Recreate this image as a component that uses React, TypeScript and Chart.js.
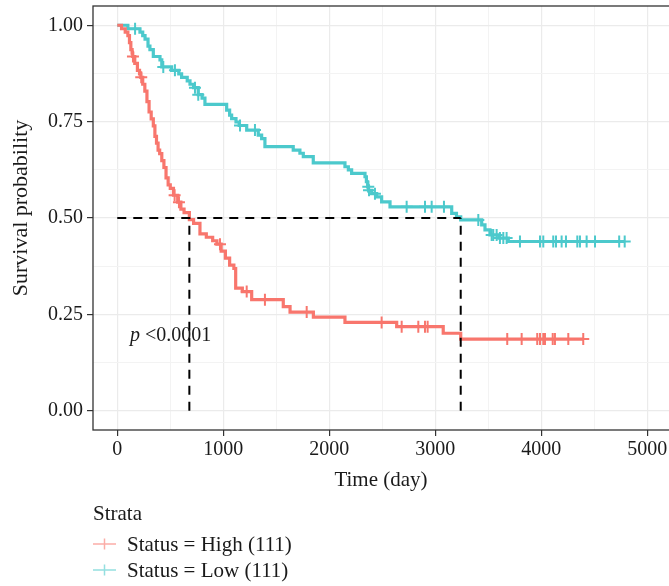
import { useEffect, useRef } from "react";
import { Chart, registerables } from "chart.js";

Chart.register(...registerables);

// Kaplan–Meier step points (time in days, survival probability after the step)
const highTime = [0, 40, 75, 100, 115, 128, 140, 146, 165, 190, 210, 222, 240, 260, 280, 300, 320, 340, 355, 370, 385, 400, 420, 440, 460, 480, 500, 530, 570, 600, 630, 680, 720, 780, 840, 900, 940, 980, 1020, 1060, 1100, 1117, 1180, 1268, 1566, 1630, 1850, 2148, 2636, 3075, 3240];
const highSurv = [1.0, 0.991, 0.982, 0.973, 0.955, 0.937, 0.928, 0.919, 0.901, 0.883, 0.874, 0.865, 0.847, 0.829, 0.802, 0.775, 0.757, 0.739, 0.712, 0.694, 0.676, 0.667, 0.649, 0.631, 0.604, 0.586, 0.577, 0.559, 0.541, 0.523, 0.514, 0.496, 0.486, 0.459, 0.45, 0.441, 0.432, 0.414, 0.396, 0.378, 0.369, 0.318, 0.309, 0.288, 0.27, 0.256, 0.243, 0.229, 0.218, 0.201, 0.186];
const highCensor = [148, 226, 541, 582, 969, 1221, 1393, 1787, 2494, 2683, 2840, 2903, 2928, 3679, 3815, 3962, 3988, 4019, 4035, 4108, 4129, 4255, 4396];

const lowTime = [0, 100, 214, 240, 262, 290, 308, 340, 403, 420, 513, 580, 607, 660, 686, 720, 764, 800, 827, 1032, 1060, 1079, 1120, 1150, 1221, 1330, 1362, 1393, 1660, 1723, 1755, 1849, 2148, 2180, 2211, 2337, 2350, 2362, 2370, 2400, 2447, 2494, 2573, 3155, 3200, 3240, 3438, 3469, 3516, 3600, 3689];
const lowSurv = [1.0, 0.991, 0.982, 0.973, 0.964, 0.946, 0.937, 0.919, 0.91, 0.892, 0.883, 0.874, 0.865, 0.856, 0.847, 0.838, 0.82, 0.811, 0.795, 0.78, 0.767, 0.758, 0.749, 0.74, 0.728, 0.715, 0.706, 0.685, 0.676, 0.668, 0.659, 0.643, 0.633, 0.625, 0.616, 0.607, 0.594, 0.581, 0.572, 0.563, 0.555, 0.542, 0.529, 0.512, 0.503, 0.495, 0.482, 0.469, 0.456, 0.448, 0.439];
const lowCensor = [168, 434, 544, 733, 764, 1158, 1299, 2368, 2375, 2431, 2730, 2903, 2966, 3082, 3406, 3532, 3547, 3579, 3610, 3642, 3673, 3799, 3988, 4019, 4113, 4139, 4192, 4233, 4340, 4365, 4428, 4507, 4735, 4787];

// Median survival times (days)
const medianHigh = 680;
const medianLow = 3240;

const strataTitle = "Strata";
const strataLabels = ["Status = High (111)", "Status = Low (111)"];
const pValueLabel = "<0.0001";
const xTitle = "Time (day)";
const yTitle = "Survival probability";

const xMajorStep = 1000;
const xMinorStep = 500;
const xTickMax = 5000;
const yMajorStep = 0.25;
const yMinorStep = 0.125;

const RED = "#F8766D";
const CYAN = "#4CC9CC";
const FONT = "'Liberation Serif', 'DejaVu Serif', serif";
const TEXT = "#1a1a1a";

function survAt(times: number[], surv: number[], t: number) {
  let s = surv[0];
  for (let i = 0; i < times.length; i++) if (times[i] <= t) s = surv[i];
  return s;
}

function curvePoints(times: number[], surv: number[], censor: number[]) {
  const pts = times.map((t, i) => ({ x: t, y: surv[i] }));
  const end = Math.max(times[times.length - 1], ...censor);
  pts.push({ x: end, y: survAt(times, surv, end) });
  return pts;
}

function censorPoints(times: number[], surv: number[], censor: number[]) {
  return censor.map((t) => ({ x: t, y: survAt(times, surv, t) }));
}

function range(start: number, stop: number, step: number) {
  const out: number[] = [];
  for (let v = start; v <= stop + 1e-9; v += step) out.push(+v.toFixed(4));
  return out;
}

const isMultiple = (v: number, step: number) => Math.abs(v / step - Math.round(v / step)) < 1e-6;

const decorations = {
  id: "kmDecor",
  afterDraw(chart: any) {
    const { ctx, chartArea } = chart;
    const { left, top, right, bottom } = chartArea;
    ctx.save();
    // panel border
    ctx.strokeStyle = "#333333";
    ctx.lineWidth = 1.3;
    ctx.strokeRect(left, top, right - left + 4, bottom - top);

    ctx.fillStyle = TEXT;
    ctx.textBaseline = "middle";

    // axis titles
    ctx.font = `21px ${FONT}`;
    ctx.textAlign = "center";
    ctx.fillText(xTitle, (left + right) / 2, 480);
    ctx.save();
    ctx.translate(21, 208);
    ctx.rotate(-Math.PI / 2);
    ctx.font = `22px ${FONT}`;
    ctx.fillText(yTitle, 0, 0);
    ctx.restore();

    // p-value
    ctx.textAlign = "left";
    ctx.textBaseline = "alphabetic";
    ctx.font = `italic 20px ${FONT}`;
    ctx.fillText("p", 130, 341);
    const pw = ctx.measureText("p").width;
    ctx.font = `20px ${FONT}`;
    ctx.fillText(pValueLabel, 130 + pw + 5, 341);

    // legend
    ctx.textBaseline = "middle";
    ctx.font = `21px ${FONT}`;
    ctx.fillText(strataTitle, 93, 514);
    const colors = [RED, CYAN];
    const rows = [544, 570];
    strataLabels.forEach((lab, i) => {
      const y = rows[i];
      ctx.save();
      ctx.globalAlpha = 0.6;
      ctx.strokeStyle = colors[i];
      ctx.lineWidth = 1.5;
      ctx.beginPath();
      ctx.moveTo(93, y);
      ctx.lineTo(116, y);
      ctx.moveTo(104.5, y - 5.5);
      ctx.lineTo(104.5, y + 5.5);
      ctx.stroke();
      ctx.restore();
      ctx.fillStyle = TEXT;
      ctx.fillText(lab, 127, y + 1);
    });
    ctx.restore();
  },
};

export default function App() {
  const canvasRef = useRef<HTMLCanvasElement | null>(null);

  useEffect(() => {
    const canvas = canvasRef.current;
    if (!canvas) return;

    const dash = {
      borderColor: "#000000",
      borderDash: [9, 7],
      borderWidth: 2,
      pointRadius: 0,
      fill: false,
      order: 0,
    };

    const chart = new Chart(canvas, {
      type: "line",
      data: {
        datasets: [
          { ...dash, label: "median", data: [{ x: 0, y: 0.5 }, { x: medianLow, y: 0.5 }] },
          { ...dash, label: "median high", data: [{ x: medianHigh, y: 0 }, { x: medianHigh, y: 0.5 }] },
          { ...dash, label: "median low", data: [{ x: medianLow, y: 0 }, { x: medianLow, y: 0.5 }] },
          {
            label: strataLabels[0],
            data: curvePoints(highTime, highSurv, highCensor),
            stepped: "before",
            borderColor: RED,
            borderWidth: 3.2,
            pointRadius: 0,
            fill: false,
            order: 2,
          },
          {
            label: strataLabels[0] + " censor",
            data: censorPoints(highTime, highSurv, highCensor),
            showLine: false,
            pointStyle: "cross",
            pointRadius: 6,
            pointBorderWidth: 2,
            pointBorderColor: RED,
            pointBackgroundColor: RED,
            order: 1,
          },
          {
            label: strataLabels[1],
            data: curvePoints(lowTime, lowSurv, lowCensor),
            stepped: "before",
            borderColor: CYAN,
            borderWidth: 3.2,
            pointRadius: 0,
            fill: false,
            order: 2,
          },
          {
            label: strataLabels[1] + " censor",
            data: censorPoints(lowTime, lowSurv, lowCensor),
            showLine: false,
            pointStyle: "cross",
            pointRadius: 6,
            pointBorderWidth: 2,
            pointBorderColor: CYAN,
            pointBackgroundColor: CYAN,
            order: 1,
          },
        ],
      },
      options: {
        responsive: false,
        animation: false,
        devicePixelRatio: 1,
        layout: { autoPadding: false, padding: { top: 6, left: 0, right: 0, bottom: 0 } },
        plugins: { legend: { display: false }, tooltip: { enabled: false } },
        scales: {
          x: {
            type: "linear",
            min: -229,
            max: 5205,
            afterBuildTicks: (s: any) => {
              s.ticks = range(0, xTickMax, xMinorStep).map((v) => ({ value: v }));
            },
            afterFit: (s: any) => {
              s.height = 156;
              s.paddingLeft = 0;
              s.paddingRight = 0;
            },
            ticks: {
              autoSkip: false,
              maxRotation: 0,
              padding: 2,
              color: TEXT,
              font: { family: FONT, size: 20 },
              callback: (v: any) => (isMultiple(Number(v), xMajorStep) ? String(v) : ""),
            },
            grid: {
              color: (c: any) => (isMultiple(c.tick?.value ?? 0, xMajorStep) ? "#EBEBEB" : "#F3F3F3"),
              lineWidth: (c: any) => (isMultiple(c.tick?.value ?? 0, xMajorStep) ? 1.2 : 1),
              tickLength: 6,
              tickWidth: 1.2,
              tickColor: (c: any) => (isMultiple(c.tick?.value ?? 0, xMajorStep) ? "#333333" : "rgba(0,0,0,0)"),
            },
            border: { display: false },
          },
          y: {
            type: "linear",
            min: -0.05,
            max: 1.05,
            afterBuildTicks: (s: any) => {
              s.ticks = range(0, 1, yMinorStep).map((v) => ({ value: v }));
            },
            afterFit: (s: any) => {
              s.width = 93;
              s.paddingTop = 0;
              s.paddingBottom = 0;
            },
            ticks: {
              autoSkip: false,
              padding: 4,
              color: TEXT,
              font: { family: FONT, size: 20 },
              callback: (v: any) => (isMultiple(Number(v), yMajorStep) ? Number(v).toFixed(2) : ""),
            },
            grid: {
              color: (c: any) => (isMultiple(c.tick?.value ?? 0, yMajorStep) ? "#EBEBEB" : "#F3F3F3"),
              lineWidth: (c: any) => (isMultiple(c.tick?.value ?? 0, yMajorStep) ? 1.2 : 1),
              tickLength: 6,
              tickWidth: 1.2,
              tickColor: (c: any) => (isMultiple(c.tick?.value ?? 0, yMajorStep) ? "#333333" : "rgba(0,0,0,0)"),
            },
            border: { display: false },
          },
        },
      },
      plugins: [decorations],
    } as any);

    return () => chart.destroy();
  }, []);

  return (
    <div style={{ position: "absolute", left: 0, top: 0, width: 669, height: 586, background: "#ffffff" }}>
      <canvas ref={canvasRef} width={669} height={586} style={{ display: "block" }} />
    </div>
  );
}
